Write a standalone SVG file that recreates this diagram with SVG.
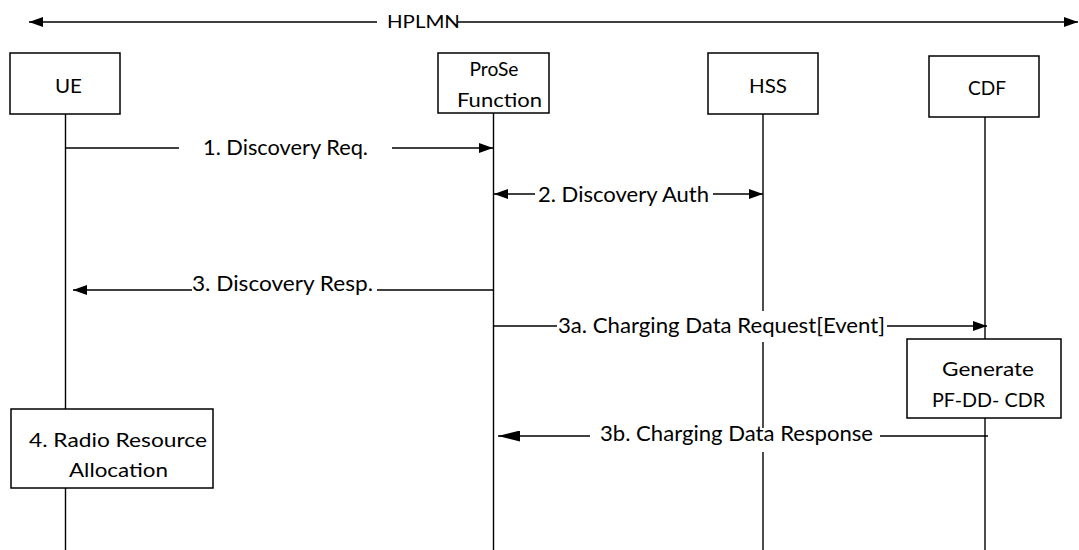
<svg xmlns="http://www.w3.org/2000/svg" width="1079" height="550" viewBox="0 0 1079 550">
<style>
.box{fill:#fff;stroke:#000;stroke-width:1.5}
.life{stroke:#000;stroke-width:1.4;fill:none}
.ln{stroke:#000;stroke-width:1.4;fill:none}
text{font-family:Lato,"Open Sans","Liberation Sans",sans-serif;fill:#000;text-anchor:middle}
.m{font-size:21px}
.b{font-size:20px}
.bg{fill:#fff}
</style>
<defs>
<marker id="ah" viewBox="0 0 14 10" refX="14" refY="5" markerWidth="14" markerHeight="10" markerUnits="userSpaceOnUse" orient="auto-start-reverse">
<path d="M0,0 L14,5 L0,10 z" fill="#000"/>
</marker>
<marker id="ahb" viewBox="0 0 22 11" refX="22" refY="5.5" markerWidth="22" markerHeight="11" markerUnits="userSpaceOnUse" orient="auto-start-reverse">
<path d="M0,0 L22,5.5 L0,11 z" fill="#000"/>
</marker>
</defs>
<rect width="1079" height="550" fill="#fff"/>

<g id="hplmn">
<line class="ln" x1="377" y1="22" x2="29" y2="22" marker-end="url(#ah)"/>
<line class="ln" x1="458" y1="22" x2="1078" y2="22" marker-end="url(#ah)"/>
<text class="b" x="423.5" y="28" textLength="73" lengthAdjust="spacingAndGlyphs" style="font-size:18px">HPLMN</text>
</g>

<g id="ue">
<line class="life" x1="65.5" y1="114" x2="65.5" y2="550"/>
<rect class="box" x="10" y="53" width="110" height="61"/>
<text class="b" x="68.5" y="93" textLength="27" lengthAdjust="spacingAndGlyphs">UE</text>
</g>

<g id="prose">
<line class="life" x1="493.5" y1="113" x2="493.5" y2="550"/>
<rect class="box" x="438" y="53" width="111" height="60"/>
<text class="b" x="494" y="76" textLength="49" lengthAdjust="spacingAndGlyphs">ProSe</text>
<text class="b" x="499.5" y="107" textLength="85" lengthAdjust="spacingAndGlyphs">Function</text>
</g>

<g id="hss">
<line class="life" x1="763" y1="114" x2="763" y2="550"/>
<rect class="box" x="708" y="53" width="110" height="61"/>
<text class="b" x="768" y="93" textLength="38" lengthAdjust="spacingAndGlyphs">HSS</text>
</g>

<g id="cdf">
<line class="life" x1="985" y1="117" x2="985" y2="550"/>
<rect class="box" x="929" y="56" width="110" height="61"/>
<text class="b" x="987" y="95" textLength="38" lengthAdjust="spacingAndGlyphs">CDF</text>
</g>

<g id="generate">
<rect class="box" x="907" y="339" width="154" height="79"/>
<text class="b" x="988" y="376" textLength="92" lengthAdjust="spacingAndGlyphs">Generate</text>
<text class="b" x="988.5" y="407" textLength="113" lengthAdjust="spacingAndGlyphs">PF-DD- CDR</text>
</g>

<g id="radio">
<rect class="box" x="11" y="409" width="202" height="79"/>
<text class="b" x="118" y="447" textLength="178" lengthAdjust="spacingAndGlyphs">4. Radio Resource</text>
<text class="b" x="118.5" y="477" textLength="99" lengthAdjust="spacingAndGlyphs">Allocation</text>
</g>

<g id="connectors">
<line class="ln" x1="65.5" y1="148" x2="179" y2="148"/>
<line class="ln" x1="392" y1="148" x2="493" y2="148" marker-end="url(#ah)"/>
<text class="m" x="285.5" y="155" textLength="165" lengthAdjust="spacingAndGlyphs">1. Discovery Req.</text>
<line class="ln" x1="535" y1="194" x2="494" y2="194" marker-end="url(#ah)"/>
<line class="ln" x1="713" y1="194" x2="763" y2="194" marker-end="url(#ah)"/>
<text class="m" x="623.5" y="202" textLength="171" lengthAdjust="spacingAndGlyphs">2. Discovery Auth</text>
<line class="ln" x1="493.5" y1="290" x2="377" y2="290"/>
<line class="ln" x1="192" y1="290" x2="73" y2="290" marker-end="url(#ah)"/>
<text class="m" x="282.5" y="291" textLength="181" lengthAdjust="spacingAndGlyphs">3. Discovery Resp.</text>
<line class="ln" x1="493.5" y1="326" x2="557" y2="326"/>
<line class="ln" x1="887" y1="326" x2="987" y2="326" marker-end="url(#ah)"/>
<rect class="bg" x="557" y="311" width="330" height="31"/>
<text class="m" x="721.5" y="333" textLength="327" lengthAdjust="spacingAndGlyphs">3a. Charging Data Request[Event]</text>
<line class="ln" x1="988" y1="436" x2="880" y2="436"/>
<line class="ln" x1="590" y1="436" x2="498" y2="436" marker-end="url(#ahb)"/>
<rect class="bg" x="593" y="428" width="285" height="24"/>
<text class="m" x="736.5" y="441" textLength="273" lengthAdjust="spacingAndGlyphs">3b. Charging Data Response</text>
</g>
</svg>
